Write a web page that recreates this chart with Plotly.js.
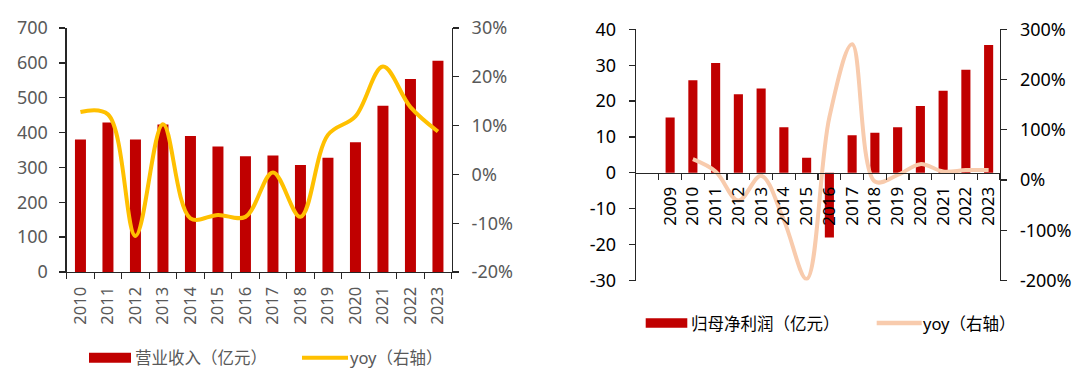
<!DOCTYPE html>
<html>
<head>
<meta charset="utf-8">
<script src="https://cdn.plot.ly/plotly-3.0.1.min.js"></script>
<style>html,body{margin:0;padding:0;background:#fff;}#chart{width:1080px;height:382px;}</style>
</head>
<body>
<div id="chart"></div>
<script>
// ---- data ----
const revYears = ['2010','2011','2012','2013','2014','2015','2016','2017','2018','2019','2020','2021','2022','2023'];
const revenue = [380, 429, 380, 423, 390, 360, 332, 334, 307, 328, 372, 477, 554, 606];
const revYoy = [12.8, 12.3, -12.6, 10.3, -9.0, -8.3, -8.7, 0.4, -8.7, 8.1, 11.9, 22.1, 13.8, 8.8];

const profitYears = ['2009','2010','2011','2012','2013','2014','2015','2016','2017','2018','2019','2020','2021','2022','2023'];
const profit = [15.4, 25.8, 30.6, 21.9, 23.5, 12.7, 4.2, -18.0, 10.5, 11.2, 12.7, 18.6, 22.9, 28.7, 35.6];
const profitYoyYears = ['2010','2011','2012','2013','2014','2015','2016','2017','2018','2019','2020','2021','2022','2023'];
const profitYoy = [41.5, 17, -41, 8.5, -80, -197, 125, 270, -3, 10, 31.6, 17, 19.7, 19.7];

// tick labels (plain hyphen minus, as in the source)
const revYoyTicks = [-20, -10, 0, 10, 20, 30];
const revYoyTickText = ['-20%', '-10%', '0%', '10%', '20%', '30%'];
const profitTicks = [-30, -20, -10, 0, 10, 20, 30, 40];
const profitTickText = ['-30', '-20', '-10', '0', '10', '20', '30', '40'];
const profitYoyTicks = [-200, -100, 0, 100, 200, 300];
const profitYoyTickText = ['-200%', '-100%', '0%', '100%', '200%', '300%'];

const legendLeft = ['营业收入（亿元）', 'yoy（右轴）'];
const legendRight = ['归母净利润（亿元）', 'yoy（右轴）'];

// ---- style ----
const W = 1080, H = 382;
const px = x => x / W;
const py = y => 1 - y / H;
const RED = '#C00000', YELLOW = '#FFC000', PEACH = '#F8CBAD';
const GREY = '#595959', BLACK = '#000000', AXIS = '#262626';
const FONT = 'Noto Sans, Noto Sans CJK SC, sans-serif';

const traces = [
  {type:'bar', x:revYears, y:revenue, name:legendLeft[0], xaxis:'x', yaxis:'y', marker:{color:RED}, showlegend:false},
  {type:'scatter', mode:'lines', x:revYears, y:revYoy, name:legendLeft[1], xaxis:'x', yaxis:'y2', line:{color:YELLOW, width:4, shape:'spline', smoothing:1}, showlegend:false, cliponaxis:false},
  {type:'bar', x:profitYears, y:profit, name:legendRight[0], xaxis:'x2', yaxis:'y3', marker:{color:RED}, showlegend:false},
  {type:'scatter', mode:'lines', x:profitYoyYears, y:profitYoy, name:legendRight[1], xaxis:'x2', yaxis:'y4', line:{color:PEACH, width:4, shape:'spline', smoothing:1}, showlegend:false, cliponaxis:false}
];

const axBase = {showgrid:false, zeroline:false, showline:true, linecolor:AXIS, linewidth:1.3, ticks:'outside', ticklen:6, tickwidth:1.3, tickcolor:AXIS, fixedrange:true};

const layout = {
  width:W, height:H, margin:{l:0, r:0, t:0, b:0}, paper_bgcolor:'#fff', plot_bgcolor:'rgba(0,0,0,0)',
  font:{family:FONT, size:17, color:GREY},
  showlegend:false, bargap:0.6,
  xaxis: Object.assign({}, axBase, {domain:[px(66.7), px(451.7)], anchor:'y', type:'category', range:[-0.5, 13.5], tickson:'boundaries', tickangle:-90, ticklabelstandoff:7, tickfont:{size:16.5, color:GREY}}),
  yaxis: Object.assign({}, axBase, {domain:[py(272), py(28)], range:[0, 700], dtick:100, ticklabelstandoff:8, tickfont:{size:18, color:GREY}}),
  yaxis2: Object.assign({}, axBase, {overlaying:'y', side:'right', anchor:'x', range:[-20, 30], tickmode:'array', tickvals:revYoyTicks, ticktext:revYoyTickText, ticklabelstandoff:9, tickfont:{size:18, color:GREY}}),
  xaxis2: Object.assign({}, axBase, {domain:[px(636), px(1000)], anchor:'free', position:py(172.7), type:'category', range:[-1.5, 14.5], tickson:'boundaries', tickangle:-90, ticklabelstandoff:6, tickfont:{size:17, color:BLACK}}),
  yaxis3: Object.assign({}, axBase, {domain:[py(280.5), py(29.3)], anchor:'x2', range:[-30, 40], tickmode:'array', tickvals:profitTicks, ticktext:profitTickText, ticklabelstandoff:9, tickfont:{size:18, color:BLACK}}),
  yaxis4: Object.assign({}, axBase, {overlaying:'y3', side:'right', anchor:'x2', range:[-200, 300], tickmode:'array', tickvals:profitYoyTicks, ticktext:profitYoyTickText, ticklabelstandoff:9, tickfont:{size:18, color:BLACK}}),
  shapes:[
    {type:'rect', xref:'paper', yref:'paper', x0:px(89), x1:px(131), y0:py(362.7), y1:py(352.7), fillcolor:RED, line:{width:0}},
    {type:'line', xref:'paper', yref:'paper', x0:px(302), x1:px(348), y0:py(357.7), y1:py(357.7), line:{color:YELLOW, width:4}},
    {type:'rect', xref:'paper', yref:'paper', x0:px(645.7), x1:px(687.3), y0:py(327.7), y1:py(318.3), fillcolor:RED, line:{width:0}},
    {type:'line', xref:'paper', yref:'paper', x0:px(876.7), x1:px(921.7), y0:py(323), y1:py(323), line:{color:PEACH, width:4.5}}
  ],
  annotations:[
    {xref:'paper', yref:'paper', x:px(133), y:py(357.7), xanchor:'left', yanchor:'middle', showarrow:false, text:legendLeft[0], font:{size:16.5, color:GREY}},
    {xref:'paper', yref:'paper', x:px(348), y:py(357.7), xanchor:'left', yanchor:'middle', showarrow:false, text:legendLeft[1], font:{size:16.5, color:GREY}},
    {xref:'paper', yref:'paper', x:px(688.5), y:py(323), xanchor:'left', yanchor:'middle', showarrow:false, text:legendRight[0], font:{size:16.5, color:BLACK}},
    {xref:'paper', yref:'paper', x:px(921), y:py(323), xanchor:'left', yanchor:'middle', showarrow:false, text:legendRight[1], font:{size:16.5, color:BLACK}}
  ]
};

Plotly.newPlot('chart', traces, layout, {displayModeBar:false, staticPlot:true});
</script>
</body>
</html>
